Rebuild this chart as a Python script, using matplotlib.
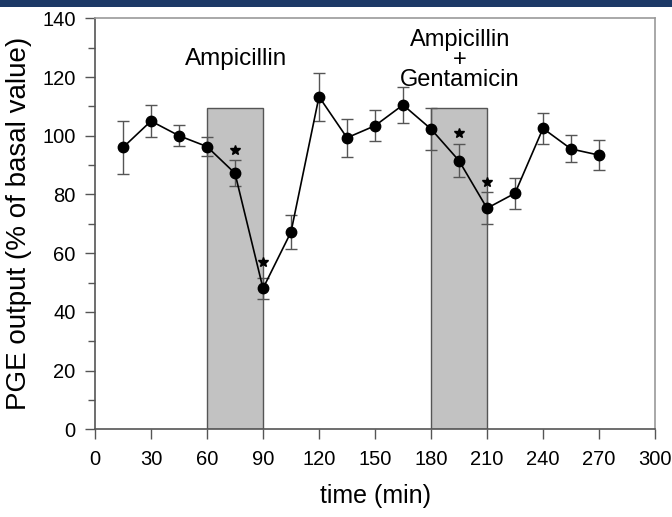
import numpy as np
import matplotlib
matplotlib.use('Agg')
import matplotlib.pyplot as plt
from matplotlib.patches import Rectangle

plt.rcParams['font.family'] = ['Liberation Sans', 'DejaVu Sans']

# PGE output over time (% of basal value), mean +/- SE
time_min = [15, 30, 45, 60, 75, 90, 105, 120, 135, 150, 165, 180, 195, 210, 225, 240, 255, 270]
pge = [96, 105, 100, 96.3, 87.2, 48, 67.2, 113.3, 99.3, 103.4, 110.5, 102.3, 91.5, 75.3, 80.4, 102.5, 95.5, 93.4]
pge_err = [9, 5.6, 3.6, 3.2, 4.4, 3.6, 5.8, 8.2, 6.5, 5.3, 6, 7.1, 5.7, 5.4, 5.3, 5.3, 4.6, 5.1]

# significant points (asterisks) and their heights
sig_time = [75, 90, 195, 210]
sig_y = [95.1, 57, 100.8, 84.3]

# treatment windows and their labels
windows = [(60, 90), (180, 210)]
window_top = 109.5
window_labels = ['Ampicillin', 'Ampicillin\n+\nGentamicin']

fig = plt.figure(figsize=(6.72, 5.17), dpi=100)
ax = fig.add_axes([95 / 672, 87.7 / 517, 560 / 672, 411 / 517])

# dark band on top of the figure
fig.patches.append(Rectangle((0, 1 - 7 / 517), 1, 7 / 517, transform=fig.transFigure,
                             facecolor='#1c3966', edgecolor='none', zorder=10))

for (x0, x1) in windows:
    ax.add_patch(Rectangle((x0, 0), x1 - x0, window_top, facecolor='#c2c2c2',
                           edgecolor='#555555', lw=1.0, zorder=1))

ax.errorbar(time_min, pge, yerr=pge_err, fmt='o-', color='black', ms=7.5,
            lw=1.2, ecolor='#555555', elinewidth=1.0, capsize=4, capthick=1.0, zorder=3)
ax.plot(sig_time, sig_y, ls='none', marker='*', color='black', ms=7.5, zorder=4)

ax.text(75.5, 124.0, window_labels[0], ha='center', va='baseline', fontsize=17.5)
ax.text(195.5, 125.8, window_labels[1], ha='center', va='center', fontsize=17,
        multialignment='center', linespacing=0.88)

ax.set_xlim(0, 300)
ax.set_ylim(0, 140)
ax.set_xticks(np.arange(0, 301, 30))
ax.set_yticks(np.arange(0, 141, 20))
ax.set_yticks(np.arange(10, 140, 20), minor=True)
ax.tick_params(axis='both', which='major', direction='out', length=7, width=1.0,
               color='#555555', labelsize=14.5, pad=8)
ax.tick_params(axis='y', which='minor', direction='out', length=5, width=1.0, color='#555555')
ax.tick_params(axis='y', which='major', pad=7)

for side in ['left', 'bottom']:
    ax.spines[side].set_color('#555555')
    ax.spines[side].set_linewidth(1.2)
for side in ['top', 'right']:
    ax.spines[side].set_color('#9a9a9a')
    ax.spines[side].set_linewidth(1.2)

ax.set_xlabel('time (min)', fontsize=18, labelpad=11)
ax.set_ylabel('PGE output (% of basal value)', fontsize=20, labelpad=7)

fig.savefig('out.png', dpi=100)
